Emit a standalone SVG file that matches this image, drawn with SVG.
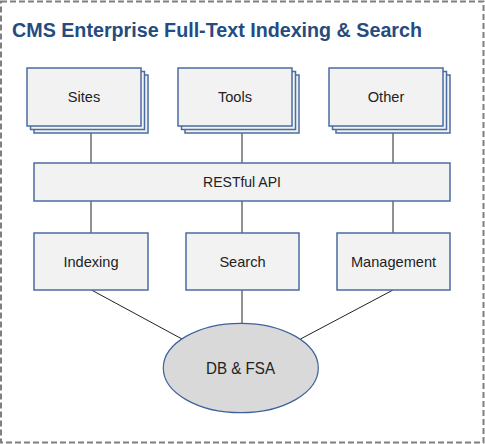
<svg xmlns="http://www.w3.org/2000/svg" width="485" height="444" viewBox="0 0 485 444">
<style>
.frame{fill:#fff;stroke:#7f7f7f;stroke-width:2;stroke-dasharray:6,3}
.title{font-family:"Liberation Sans",Arial,sans-serif;font-weight:bold;font-size:19.6px;fill:#254B80}
.box{fill:#F2F2F2;stroke:#4A6CA0;stroke-width:1.5}
.lbl{font-family:"Liberation Sans",Arial,sans-serif;font-size:14.6px;fill:#222;text-anchor:middle}
.conn line{stroke:#222;stroke-width:1}
.db{fill:#D9D9D9;stroke:#3E629C;stroke-width:1.2}
</style>
<rect class="frame" x="1" y="1.5" width="482.5" height="441"/>
<text class="title" x="12" y="37" textLength="410" lengthAdjust="spacingAndGlyphs">CMS Enterprise Full-Text Indexing &amp; Search</text>
<g class="conn" id="connectors">
<line x1="91" y1="133" x2="91" y2="163"/>
<line x1="242" y1="133" x2="242" y2="163"/>
<line x1="393" y1="133" x2="393" y2="163"/>
<line x1="91" y1="201" x2="91" y2="233"/>
<line x1="242" y1="201" x2="242" y2="233"/>
<line x1="393" y1="201" x2="393" y2="233"/>
<line x1="91.5" y1="290" x2="182" y2="339"/>
<line x1="242" y1="290" x2="242" y2="323.5"/>
<line x1="393" y1="290" x2="300.5" y2="339"/>
</g>
<g id="sites">
<rect class="box" x="34" y="75" width="114" height="58"/>
<rect class="box" x="30.5" y="71.5" width="114" height="58"/>
<rect class="box" x="27" y="68" width="114" height="58"/>
<text class="lbl" x="84" y="102">Sites</text>
</g>
<g id="tools">
<rect class="box" x="185" y="75" width="114" height="58"/>
<rect class="box" x="181.5" y="71.5" width="114" height="58"/>
<rect class="box" x="178" y="68" width="114" height="58"/>
<text class="lbl" x="235" y="102">Tools</text>
</g>
<g id="other">
<rect class="box" x="336" y="75" width="114" height="58"/>
<rect class="box" x="332.5" y="71.5" width="114" height="58"/>
<rect class="box" x="329" y="68" width="114" height="58"/>
<text class="lbl" x="386" y="102">Other</text>
</g>
<g id="restful-api">
<rect class="box" x="34" y="163" width="416" height="38"/>
<text class="lbl" x="242" y="187" style="font-size:14px">RESTful API</text>
</g>
<g id="indexing">
<rect class="box" x="34" y="233" width="114" height="57"/>
<text class="lbl" x="91" y="266.5">Indexing</text>
</g>
<g id="search">
<rect class="box" x="186" y="233" width="113" height="57"/>
<text class="lbl" x="242.5" y="266.5">Search</text>
</g>
<g id="management">
<rect class="box" x="337" y="233" width="113" height="57"/>
<text class="lbl" x="393.5" y="266.5">Management</text>
</g>
<g id="db-fsa">
<ellipse class="db" cx="240.8" cy="368" rx="77.5" ry="44.7"/>
<text class="lbl" x="240.5" y="374" style="font-size:17px" textLength="69" lengthAdjust="spacingAndGlyphs">DB &amp; FSA</text>
</g>
</svg>
